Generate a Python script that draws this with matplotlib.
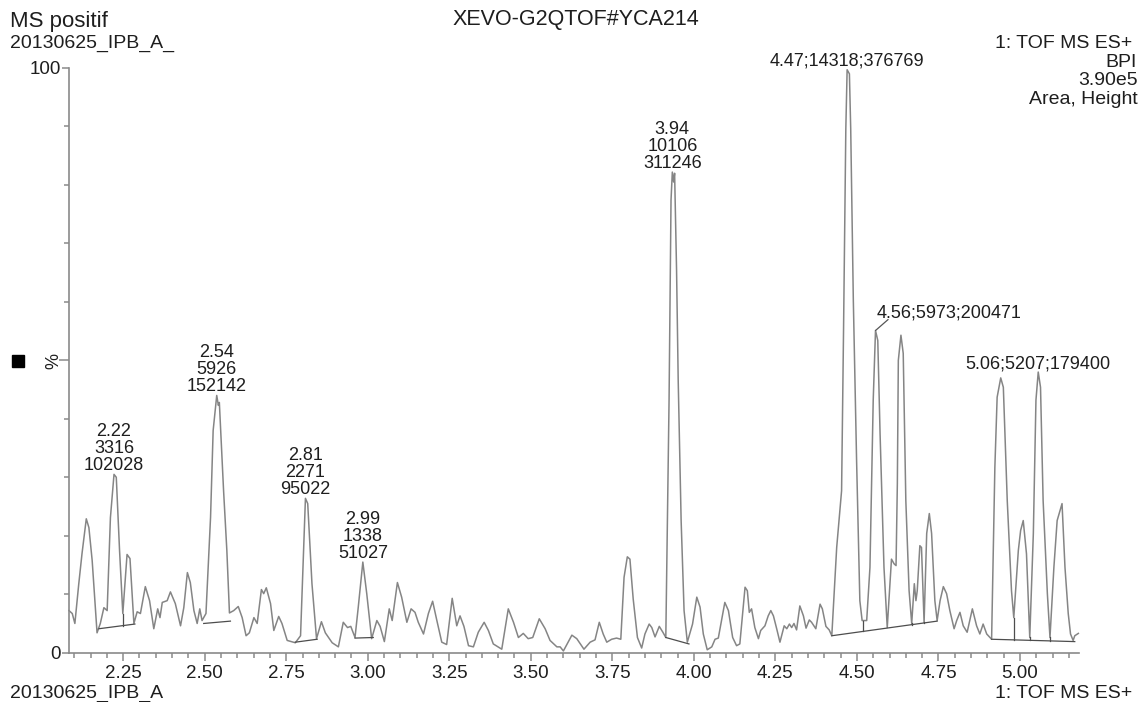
import numpy as np
import matplotlib
matplotlib.use("Agg")
import matplotlib.pyplot as plt
from matplotlib.patches import Rectangle

plt.rcParams['font.family'] = ['Liberation Sans', 'DejaVu Sans']

# ---------------- data (retention time in min, intensity in %) ----------------
rt = [2.084, 2.094, 2.102, 2.114, 2.124, 2.137, 2.145, 2.155, 2.170, 2.180,
      2.191, 2.201, 2.211, 2.222, 2.229, 2.239, 2.249, 2.262, 2.271, 2.283,
      2.293, 2.303, 2.318, 2.331, 2.344, 2.356, 2.363, 2.370, 2.385, 2.395,
      2.410, 2.426, 2.436, 2.447, 2.456, 2.467, 2.477, 2.485, 2.492, 2.504,
      2.518, 2.526, 2.537, 2.542, 2.545, 2.558, 2.568, 2.576, 2.589, 2.603,
      2.615, 2.627, 2.637, 2.651, 2.661, 2.674, 2.681, 2.689, 2.702, 2.712,
      2.727, 2.737, 2.753, 2.778, 2.794, 2.809, 2.816, 2.829, 2.843, 2.858,
      2.870, 2.891, 2.910, 2.925, 2.938, 2.948, 2.961, 2.971, 2.985, 2.997,
      3.012, 3.028, 3.038, 3.051, 3.066, 3.075, 3.091, 3.104, 3.120, 3.133,
      3.145, 3.155, 3.171, 3.186, 3.199, 3.212, 3.227, 3.242, 3.259, 3.273,
      3.283, 3.295, 3.309, 3.324, 3.339, 3.357, 3.370, 3.385, 3.411, 3.431,
      3.447, 3.462, 3.477, 3.492, 3.506, 3.526, 3.544, 3.559, 3.580, 3.590,
      3.600, 3.626, 3.641, 3.663, 3.682, 3.697, 3.710, 3.722, 3.733, 3.748,
      3.763, 3.776, 3.786, 3.796, 3.804, 3.814, 3.827, 3.840, 3.850, 3.863,
      3.871, 3.881, 3.894, 3.905, 3.914, 3.924, 3.930, 3.934, 3.938, 3.941,
      3.947, 3.952, 3.961, 3.970, 3.980, 3.996, 4.009, 4.019, 4.029, 4.041,
      4.055, 4.065, 4.075, 4.095, 4.106, 4.119, 4.131, 4.141, 4.157, 4.164,
      4.170, 4.177, 4.187, 4.198, 4.205, 4.218, 4.228, 4.236, 4.244, 4.254,
      4.264, 4.277, 4.285, 4.293, 4.300, 4.307, 4.315, 4.325, 4.336, 4.344,
      4.354, 4.361, 4.374, 4.387, 4.394, 4.405, 4.415, 4.423, 4.438, 4.453,
      4.459, 4.466, 4.470, 4.477, 4.481, 4.489, 4.499, 4.509, 4.516, 4.530,
      4.540, 4.550, 4.557, 4.564, 4.571, 4.583, 4.593, 4.606, 4.614, 4.620,
      4.624, 4.627, 4.635, 4.642, 4.650, 4.660, 4.668, 4.676, 4.681, 4.685,
      4.693, 4.698, 4.706, 4.714, 4.722, 4.729, 4.739, 4.746, 4.755, 4.765,
      4.775, 4.785, 4.798, 4.806, 4.816, 4.826, 4.838, 4.854, 4.867, 4.877,
      4.887, 4.898, 4.913, 4.923, 4.930, 4.941, 4.949, 4.961, 4.974, 4.981,
      4.995, 5.002, 5.010, 5.020, 5.030, 5.041, 5.049, 5.056, 5.063, 5.071,
      5.084, 5.092, 5.104, 5.114, 5.129, 5.138, 5.148, 5.155, 5.163, 5.168,
      5.179]
intensity = [7.2, 6.7, 5.0, 11.8, 17.0, 22.9, 21.4, 15.8, 3.4, 5.0,
             7.7, 7.2, 23.1, 30.5, 30.0, 17.5, 6.7, 16.8, 16.1, 5.0,
             7.0, 6.7, 11.3, 8.9, 4.1, 7.5, 6.0, 8.6, 8.9, 10.4,
             8.4, 4.6, 7.7, 13.7, 12.0, 7.2, 5.0, 7.5, 5.5, 6.7,
             23.1, 38.0, 44.0, 42.3, 42.8, 27.7, 17.5, 6.8, 7.2, 7.9,
             6.0, 2.9, 3.4, 6.0, 5.0, 10.8, 10.1, 11.1, 8.4, 3.8,
             6.2, 5.0, 2.1, 1.7, 2.9, 26.4, 25.5, 11.8, 2.4, 5.3,
             3.4, 1.7, 1.0, 5.2, 4.3, 4.5, 2.6, 7.8, 15.5, 10.1,
             2.4, 5.5, 4.5, 1.9, 7.5, 5.5, 12.0, 9.5, 5.2, 7.5,
             6.9, 5.2, 3.2, 6.7, 8.8, 5.5, 1.8, 1.4, 9.3, 4.6,
             6.3, 4.5, 1.2, 1.0, 3.5, 5.2, 3.8, 1.5, 0.6, 7.5,
             5.2, 2.6, 3.3, 2.4, 2.6, 5.8, 4.1, 2.1, 1.0, 1.0,
             0.3, 3.0, 2.4, 0.6, 1.8, 2.2, 5.2, 3.2, 1.8, 2.3,
             2.5, 2.3, 12.9, 16.4, 16.0, 9.2, 2.6, 0.8, 3.2, 4.9,
             4.3, 2.7, 4.5, 3.5, 2.6, 43.2, 77.4, 82.2, 80.5, 82.0,
             65.4, 46.6, 22.6, 7.2, 1.8, 4.9, 9.5, 7.8, 3.2, 0.5,
             1.0, 2.3, 2.5, 8.6, 7.2, 2.6, 1.2, 1.5, 11.2, 10.6,
             6.9, 7.5, 4.3, 2.4, 3.8, 4.6, 6.3, 7.2, 6.3, 4.1,
             1.8, 4.6, 4.1, 4.9, 4.3, 5.0, 3.9, 8.0, 6.3, 4.2,
             5.6, 5.2, 4.1, 8.3, 7.5, 4.5, 3.9, 2.9, 18.0, 27.7,
             55.1, 89.6, 99.7, 99.0, 89.6, 60.3, 32.9, 8.9, 5.5, 5.5,
             14.6, 43.2, 55.1, 53.4, 37.5, 14.6, 4.3, 16.0, 15.2, 14.9,
             28.9, 50.0, 54.3, 51.2, 26.0, 10.6, 5.0, 11.8, 8.9, 10.6,
             18.3, 18.0, 5.2, 20.4, 23.8, 20.4, 8.9, 5.5, 8.9, 11.3,
             10.1, 7.2, 4.1, 5.5, 6.9, 4.6, 3.5, 7.5, 4.6, 3.2,
             4.9, 3.2, 2.3, 31.7, 43.7, 47.0, 45.4, 26.0, 10.6, 6.0,
             17.5, 20.9, 22.6, 16.9, 2.6, 20.4, 43.2, 48.0, 45.4, 26.0,
             10.1, 2.6, 14.6, 22.6, 25.5, 14.6, 6.7, 3.2, 2.1, 2.9,
             3.3]

# integration baselines (start/end) and peak split (drop) times
bl_start_t = [2.176, 2.497, 2.778, 2.961, 3.914, 4.423, 4.913]
bl_start_v = [4.1, 5.0, 1.8, 2.5, 2.6, 2.9, 2.3]
bl_end_t = [2.286, 2.579, 2.845, 3.017, 3.985, 4.746, 5.168]
bl_end_v = [4.9, 5.4, 2.3, 2.6, 1.5, 5.4, 1.9]
drop_t = [2.249, 4.520, 4.593, 4.668, 4.706, 4.981, 5.030, 5.092]

# peak annotations
peak_rt = [2.22, 2.54, 2.81, 2.99, 3.94, 4.47, 4.56, 5.06]
peak_text = ["2.22\n3316\n102028", "2.54\n5926\n152142", "2.81\n2271\n95022",
             "2.99\n1338\n51027", "3.94\n10106\n311246", "4.47;14318;376769",
             "4.56;5973;200471", "5.06;5207;179400"]

x_major = [2.25, 2.50, 2.75, 3.00, 3.25, 3.50, 3.75, 4.00, 4.25, 4.50, 4.75, 5.00]

# ---------------- figure ----------------
W, H = 1145, 702
fig = plt.figure(figsize=(W / 100, H / 100), dpi=100)
fig.patch.set_facecolor('white')

def fx(x):
    return x / W

def fy(y):
    return 1 - y / H

ax = fig.add_axes([fx(69), fy(652.7), fx(1079) - fx(69), fy(68) - fy(652.7)])
ax.set_xlim(2.084, 5.181)
ax.set_ylim(0, 100)

line_col = '#858585'
axis_col = '#8a8a8a'
txt_col = '#1e1e1e'

t = np.array(rt)
v = np.array(intensity)
ax.plot(t, v, color=line_col, lw=1.1, solid_joinstyle='round', clip_on=False)

# baselines and drop lines
bl_col = '#4d4d4d'
for s_t, s_v, e_t, e_v in zip(bl_start_t, bl_start_v, bl_end_t, bl_end_v):
    ax.plot([s_t, e_t], [s_v, e_v], color=bl_col, lw=0.9)
for d in drop_t:
    for s_t, s_v, e_t, e_v in zip(bl_start_t, bl_start_v, bl_end_t, bl_end_v):
        if s_t <= d <= e_t:
            base = np.interp(d, [s_t, e_t], [s_v, e_v])
            top = np.interp(d, t, v)
            ax.plot([d, d], [base, top], color=bl_col, lw=0.9)

# annotations
for prt, txt in zip(peak_rt, peak_text):
    m = (t > prt - 0.02) & (t < prt + 0.02)
    i = np.argmax(np.where(m, v, -1))
    px, py = t[i], v[i]
    if prt == 4.56:
        ax.annotate('', xy=(px, py), xytext=(12.6, 11), textcoords='offset pixels',
                    arrowprops=dict(arrowstyle='-', color='#555555', lw=0.9,
                                    shrinkA=0, shrinkB=0))
        ax.annotate(txt, xy=(px, py), xytext=(1, 9), textcoords='offset pixels',
                    ha='left', va='bottom', fontsize=13, color=txt_col)
    else:
        ax.annotate(txt, xy=(px, py), xytext=(0, 0), textcoords='offset pixels',
                    ha='center', va='bottom', fontsize=13, color=txt_col,
                    linespacing=1.0)

# axes styling
for s in ['top', 'right']:
    ax.spines[s].set_visible(False)
for s in ['left', 'bottom']:
    ax.spines[s].set_color(axis_col)
    ax.spines[s].set_linewidth(1.2)

ax.set_xticks(x_major)
ax.set_xticklabels([f"{x:.2f}" for x in x_major])
ax.set_xticks(np.arange(2.10, 5.16, 0.05), minor=True)
ax.tick_params(axis='x', which='major', length=6, width=1.1, color=axis_col,
               labelsize=13.5, labelcolor=txt_col, pad=3)
ax.tick_params(axis='x', which='minor', length=3.5, width=1.1, color=axis_col)

ax.set_yticks([0, 50, 100])
ax.set_yticklabels(['0', '', '100'])
ax.set_yticks(np.arange(10, 100, 10), minor=True)
ax.tick_params(axis='y', which='major', length=5, width=1.1, color=axis_col,
               labelsize=13.5, labelcolor=txt_col, pad=1)
ax.tick_params(axis='y', which='minor', length=3.5, width=1.1, color=axis_col)
ax.yaxis.get_major_ticks()[1].tick1line.set_markersize(7.5)

# header / footer texts
fig.text(fx(10), fy(27), "MS positif", fontsize=16, color=txt_col, va='baseline')
fig.text(fx(10), fy(48), "20130625_IPB_A_", fontsize=14, color=txt_col, va='baseline')
fig.text(fx(576), fy(25), "XEVO-G2QTOF#YCA214", fontsize=15.5, color=txt_col,
         ha='center', va='baseline')
fig.text(fx(1132), fy(48), "1: TOF MS ES+", fontsize=14, color=txt_col, ha='right', va='baseline')
fig.text(fx(1137), fy(67), "BPI", fontsize=14, color=txt_col, ha='right', va='baseline')
fig.text(fx(1138), fy(85), "3.90e5", fontsize=14, color=txt_col, ha='right', va='baseline')
fig.text(fx(1138), fy(104), "Area, Height", fontsize=14, color=txt_col, ha='right', va='baseline')
fig.text(fx(10), fy(698), "20130625_IPB_A", fontsize=14, color=txt_col, va='baseline')
fig.text(fx(1132), fy(698), "1: TOF MS ES+", fontsize=14, color=txt_col, ha='right', va='baseline')

fig.text(fx(54), fy(361), "%", fontsize=13, color=txt_col, rotation=90,
         ha='center', va='center')
fig.patches.append(Rectangle((fx(12), fy(367)), 12 / W, 12 / H,
                             transform=fig.transFigure, color='black'))

fig.savefig("out.png", dpi=100)
